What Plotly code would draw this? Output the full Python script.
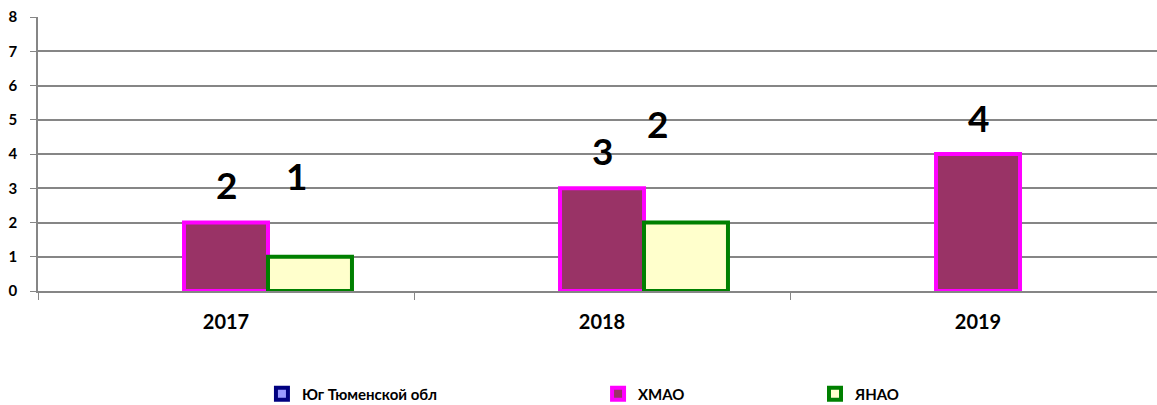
import plotly.graph_objects as go

years = ["2017", "2018", "2019"]
series_names = ["Юг Тюменской обл", "ХМАО", "ЯНАО"]
yug = [None, None, None]
hmao = [2, 3, 4]
yanao = [1, 2, None]
y_ticks = [0, 1, 2, 3, 4, 5, 6, 7, 8]

FONT = "Lato"
fig = go.Figure()
fig.add_trace(go.Bar(name=series_names[0], x=years, y=yug, showlegend=True,
                     marker=dict(color="#9999FF", line=dict(color="#000080", width=4)),
                     legend="legend"))
fig.add_trace(go.Bar(name=series_names[1], x=years, y=hmao, showlegend=True,
                     marker=dict(color="#993366", line=dict(color="#FF00FF", width=4)),
                     legend="legend2"))
fig.add_trace(go.Bar(name=series_names[2], x=years, y=yanao, showlegend=True,
                     marker=dict(color="#FFFFCC", line=dict(color="#008000", width=4)),
                     legend="legend3"))

# data labels (manually offset as in the original)
label_style = [
    # (series values, xshift px, yshift px)
    (hmao, [0, 0, 0], [38, 38, 37]),
    (yanao, [70, 55, 0], [81, 99, 0]),
]
for vals, xs, ys in label_style:
    for i, v in enumerate(vals):
        if v is None:
            continue
        fig.add_annotation(x=i, y=v, xref="x", yref="y", text="<b>%d</b>" % v,
                           showarrow=False, xshift=xs[i], yshift=ys[i], yanchor="middle",
                           font=dict(family=FONT, size=37, color="black"))

leg_common = dict(orientation="h", yanchor="middle", y=0.027, xanchor="left",
                  xref="container", yref="container",
                  font=dict(family=FONT, size=15, color="black", weight="bold"),
                  bgcolor="rgba(0,0,0,0)")
fig.update_layout(
    width=1157, height=405, showlegend=True,
    margin=dict(l=38, r=0, t=17, b=114),
    paper_bgcolor="white", plot_bgcolor="white",
    barmode="group", bargap=0.33, bargroupgap=0,
    legend=dict(x=0.2264, **leg_common),
    legend2=dict(x=0.5169, **leg_common),
    legend3=dict(x=0.7044, **leg_common),
    xaxis=dict(type="category", range=[-0.5, 2.476], showgrid=False, automargin=False,
               showline=True, linecolor="#868686", linewidth=1.5,
               ticks="outside", tickson="boundaries", ticklen=7, tickcolor="#868686",
               tickfont=dict(family=FONT, size=20, color="black", weight="bold"),
               ticklabelstandoff=12),
    yaxis=dict(range=[0, 8], tickvals=y_ticks, showgrid=True, gridcolor="#868686",
               gridwidth=1.5, zeroline=False, showline=True, linecolor="#868686",
               linewidth=1.5, ticks="outside", ticklen=6, tickcolor="#868686", automargin=False,
               tickfont=dict(family=FONT, size=15, color="black", weight="bold"),
               ticklabelstandoff=10),
)
fig.write_html("out.html", config={"displayModeBar": False},
               post_script="document.body.style.margin='0px';")
